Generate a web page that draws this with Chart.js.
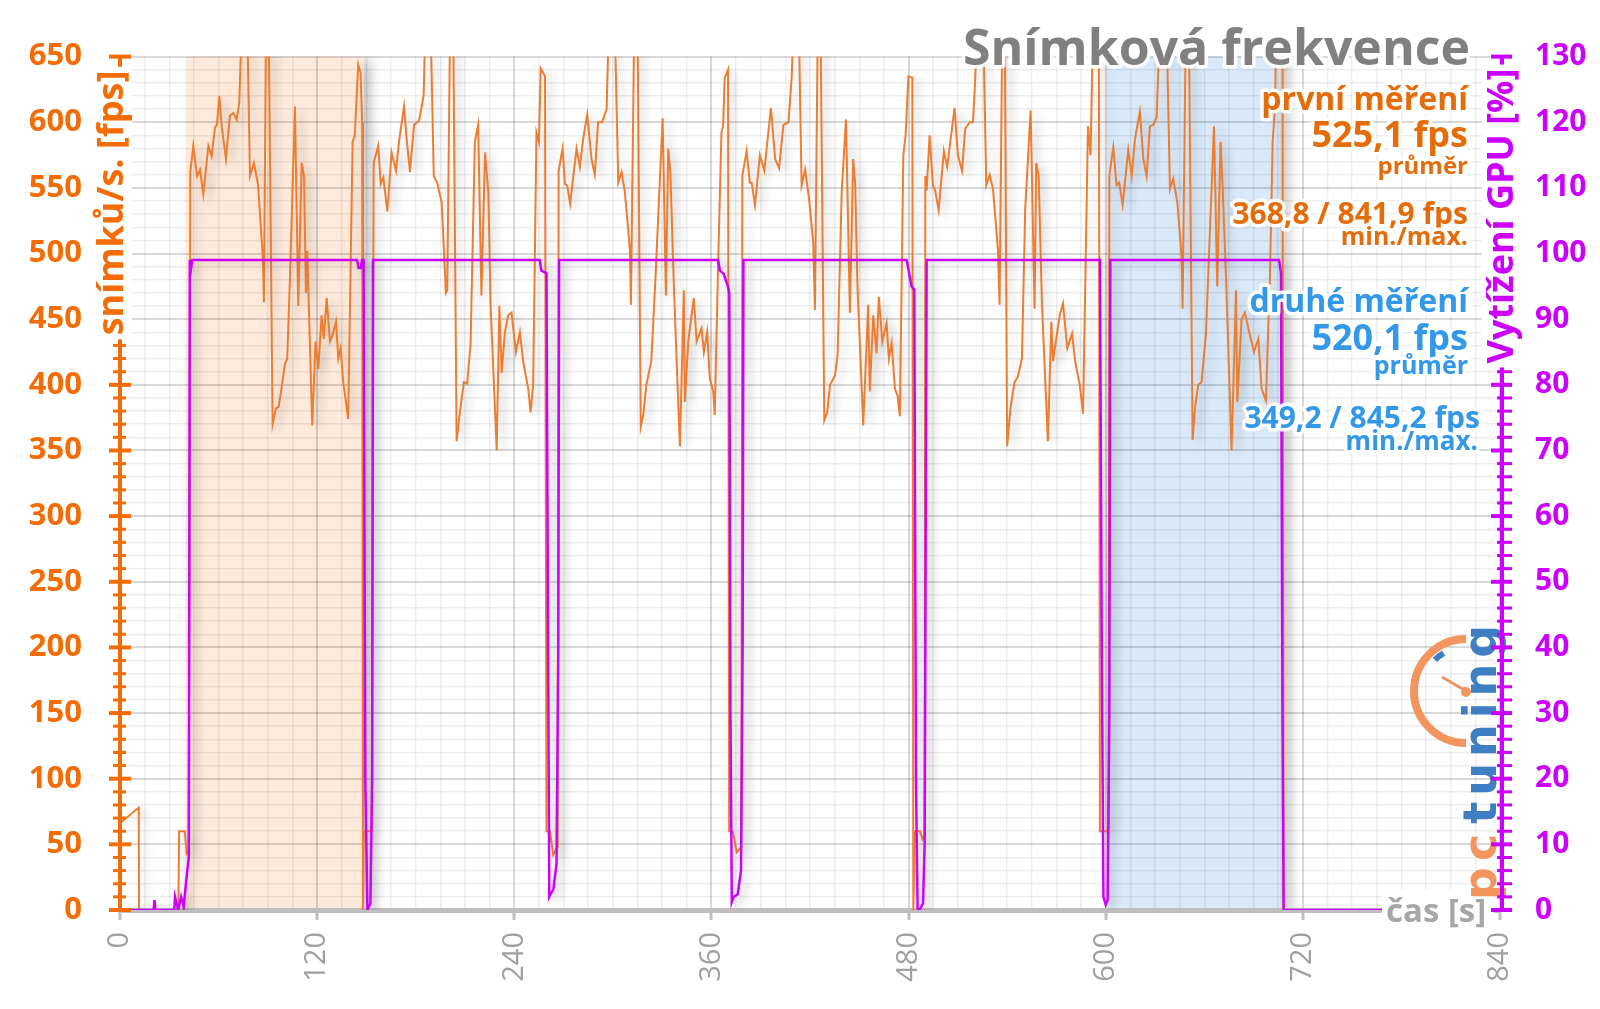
<!DOCTYPE html>
<html>
<head>
<meta charset="utf-8">
<title>Snímková frekvence</title>
<script src="https://cdn.jsdelivr.net/npm/chart.js@4.4.1/dist/chart.umd.min.js"></script>
<style>
  html, body { margin: 0; padding: 0; background: #fff; }
  #wrap { width: 1600px; height: 1009px; }
</style>
</head>
<body>
<div id="wrap"><canvas id="fpsChart" width="1600" height="1009"></canvas></div>
<script>
// time [s] / fps pairs, one list per test run
const fpsIdle = [[0,66],[11.4,78],[11.6,0],[35.5,0],[36,60],[39.4,60],[40.6,43],[41.8,45]];
const fpsRun1 = [[42.8,562],[44.6,582],[46.9,559],[48.7,564],[50.7,545],[53.8,582],[55.8,574],[57.8,596],[59,598],[60.5,620],[61.9,597],[64.5,572],[66.9,605],[69,607],[71,602],[72.6,615],[76.3,760],[79.1,559],[81.5,569],[84,553],[87,496],[87.6,463],[89.6,790],[92.9,370],[94.9,382],[96.5,383],[98.4,398],[100.4,416],[101.8,420],[103.5,483],[106.5,612],[108.5,460],[110.6,569],[112,559],[113.2,470],[114,502],[117,369],[119,433],[120.7,412],[122.7,453],[124,435],[125.8,466],[127.8,433],[129.4,438],[131.5,448],[132.9,420],[134.3,428],[135.9,402],[138.9,374],[141.6,585],[142.9,590],[145,644],[146.4,638],[147.4,600],[147.9,0],[148.4,60],[153.2,60]];
const fpsRun2 = [[154.4,569],[157.2,582],[158.7,553],[160.3,558],[162.7,532],[165.3,577],[168,563],[170,587],[172.9,612],[174.5,587],[176.5,562],[179,598],[182,601],[184.8,620],[187.6,760],[191,559],[193,554],[195.8,539],[198.4,470],[199.2,472],[202,800],[204.9,357],[206.9,379],[209.3,402],[211.3,401],[213.4,431],[216,585],[218,598],[220,468],[222.2,577],[224.2,547],[225.6,460],[229.3,350],[230.9,460],[232.3,409],[234.3,440],[236.3,453],[238.3,455],[241,425],[243.4,440],[245.5,417],[248.5,397],[249.9,379],[251.5,400],[253.5,592],[255,585],[256.1,641],[258.7,635],[259.6,60],[261.7,60],[263.7,42],[266.4,48]];
const fpsRun3 = [[267,563],[269.4,580],[270.8,553],[272.2,552],[274,538],[277.9,580],[279.9,566],[281.9,587],[284.4,606],[287,572],[289,560],[291,600],[293.5,600],[296.2,610],[299.5,770],[303.3,554],[305.3,562],[307.3,547],[310.4,503],[311,461],[314.2,800],[317,368],[318.5,377],[320.4,400],[323.4,418],[326,483],[330.3,603],[332.3,468],[333.7,580],[335,562],[337.2,473],[340.8,353],[343.2,472],[343.8,387],[345.9,433],[347.9,453],[349.3,466],[351,433],[354,443],[355.4,425],[357.4,440],[359,405],[361.1,395],[362,377],[364.1,493],[366.1,592],[367.1,597],[368.1,634],[370.1,640],[370.8,60],[373,60],[375.4,44],[378.2,48]];
const fpsRun4 = [[378.8,559],[381.4,578],[383.4,554],[384.5,554],[386.5,537],[389.5,575],[392.2,563],[394.2,587],[396.2,611],[398.8,572],[401.2,565],[403.8,598],[406.9,600],[408.9,635],[412,760],[414.9,552],[417,564],[419.4,542],[422,508],[423,457],[425.6,780],[428.7,373],[430.5,379],[432.2,400],[435.2,407],[436.8,423],[439.3,547],[441.9,602],[444.3,455],[446.3,572],[447.5,553],[448.9,475],[452.4,369],[455.4,461],[456.4,395],[458.5,453],[460.5,424],[461.9,467],[464,433],[466.6,447],[468,420],[469.7,432],[471.7,397],[473.3,392],[474.7,376],[476.8,575],[478.2,590],[479.9,635],[482.3,634],[482.9,0],[483.9,60],[486.9,60],[488.5,54],[489.8,58]];
const fpsRun5 = [[490.2,559],[491,548],[492.8,590],[494.8,552],[496.2,548],[498.3,533],[501.5,578],[503.5,566],[505.6,587],[508,611],[510,575],[512.5,563],[514.5,595],[517.2,600],[519.2,600],[520.5,630],[524,770],[527.3,552],[529.4,560],[531.4,549],[534.4,503],[535.4,461],[538,790],[540,353],[542,382],[544.5,402],[546.5,406],[549,420],[551,534],[554.3,609],[556.7,458],[557.7,569],[559.2,559],[561.2,461],[564.8,357],[566.9,448],[567.9,418],[572,453],[574,462],[576.6,428],[579.5,439],[581.5,417],[584.2,400],[586.2,378],[589.2,597],[590.8,575],[592.5,690],[595.8,700],[596.5,60],[600.6,60],[601.8,62]];
const fpsRun6 = [[602.2,559],[604.6,581],[606.6,552],[608.2,554],[610.3,537],[613.7,579],[615.8,559],[617.8,587],[620.8,608],[622.9,572],[624.9,559],[626.9,597],[629,598],[631,604],[635.5,770],[639.1,549],[641.1,557],[643.6,539],[646.2,498],[646.8,458],[649.8,790],[652.9,358],[654.3,382],[656.3,400],[658.3,402],[661,438],[665.9,597],[667.9,475],[669.9,585],[671.3,547],[673.2,483],[676.6,350],[679.3,472],[680.1,387],[682.7,450],[684.7,455],[687.4,440],[690.2,425],[692.9,435],[694.9,397],[697.5,388],[700,483],[701.6,585],[703,610],[704.5,720],[707.6,700],[708.3,0]];

// time [s] / GPU load [%] pairs
const gpuLoad = [[0,0],[20.5,0],[21,1.5],[21.6,0],[33,0],[33.5,2],[35.4,0],[37.2,2],[38.8,0.5],[40.3,4.5],[41.9,8],[42.5,99],[43.2,97.6],[44,99],
  [144.3,99],[145.2,97.8],[146.6,97.8],[147.3,99],[148.3,99],[149.3,20],[150.6,0],[152.4,1],[153.5,20],[154,99],
  [255.5,99],[256.5,97.4],[259.6,97],[260.5,45],[261.3,2],[263.8,3.2],[265.7,7],[266.8,40],[267.3,99],
  [364,99],[365.2,97.4],[367.5,96.9],[370,95],[370.9,94],[371.6,30],[372.4,1.2],[373.6,2],[376,2.4],[378,6],[379,40],[379.5,99],
  [478.8,99],[480,97.5],[481.8,95],[483.5,94.5],[484.5,20],[485.5,0],[486.6,0],[488.8,1],[489.8,10],[491,99],
  [596.5,99],[597.6,40],[598.6,2],[600,0.8],[601.2,1.5],[602.2,30],[602.8,99],
  [705.5,99],[706.7,97],[707.6,30],[708.3,0],[768.5,0]];

// highlighted runs [start s, end s]
const firstBand = [40, 148.5];
const secondBand = [601, 706.5];

const timeLabels = [0, 120, 240, 360, 480, 600, 720, 840];
const fpsLabels = [0, 50, 100, 150, 200, 250, 300, 350, 400, 450, 500, 550, 600, 650];
const gpuLabels = [0, 10, 20, 30, 40, 50, 60, 70, 80, 90, 100, 110, 120, 130];

const firstText = ['první měření', '525,1 fps', 'průměr', '368,8 / 841,9 fps', 'min./max.'];
const secondText = ['druhé měření', '520,1 fps', 'průměr', '349,2 / 845,2 fps', 'min./max.'];

const FONT = '"Open Sans", "Noto Sans", sans-serif';
const ORANGE = '#F46C05';
const ORANGE_TXT = '#E46C0A';
const LINE_ORANGE = '#ED7D31';
const MAGENTA = '#CC00FF';
const BLUE_TXT = '#3398E8';
const GREY = '#808080';

const toPoints = list => list.map(p => ({ x: p[0], y: p[1] }));
const fpsPoints = toPoints([].concat(fpsIdle, fpsRun1, fpsRun2, fpsRun3, fpsRun4, fpsRun5, fpsRun6));
const gpuPoints = toPoints(gpuLoad);

function haloText(ctx, text, x, y, size, color, align) {
    ctx.font = 'bold ' + size + 'px ' + FONT;
    ctx.textAlign = align || 'right';
    ctx.textBaseline = 'alphabetic';
    ctx.lineJoin = 'round';
    ctx.lineWidth = 7;
    ctx.strokeStyle = 'rgba(255,255,255,0.92)';
    ctx.strokeText(text, x, y);
    ctx.fillStyle = color;
    ctx.fillText(text, x, y);
}

function boxedVertical(ctx, text, cx, cy, size, color) {
    ctx.save();
    ctx.translate(cx, cy);
    ctx.rotate(-Math.PI / 2);
    ctx.font = 'bold ' + size + 'px ' + FONT;
    const w = ctx.measureText(text).width;
    ctx.fillStyle = '#fff';
    ctx.fillRect(-w / 2 - 4, -20, w + 8, 40);
    ctx.fillStyle = color;
    ctx.textAlign = 'center';
    ctx.textBaseline = 'middle';
    ctx.fillText(text, 0, 1);
    ctx.restore();
}

const bandPlugin = {
    id: 'bands',
    beforeDraw(chart) {
        const { ctx, chartArea: a, scales: { x } } = chart;
        ctx.save();
        ctx.fillStyle = '#fff';
        ctx.fillRect(0, 0, chart.width, chart.height);
        ctx.beginPath();
        ctx.rect(a.left, a.top, a.right - a.left, a.bottom - a.top);
        ctx.clip();
        ctx.shadowColor = 'rgba(0,0,0,0.18)';
        ctx.shadowBlur = 12;
        ctx.shadowOffsetX = 7;
        [[firstBand, '#FDEADB'], [secondBand, '#DAE9F9']].forEach(([b, col]) => {
            const x0 = x.getPixelForValue(b[0]);
            const x1 = x.getPixelForValue(b[1]);
            ctx.fillStyle = col;
            ctx.fillRect(x0, a.top, x1 - x0, a.bottom - a.top);
        });
        ctx.restore();
    }
};

const shadowPlugin = {
    id: 'lineShadow',
    beforeDatasetDraw(chart) {
        const ctx = chart.ctx;
        ctx.save();
        ctx.shadowColor = 'rgba(0,0,0,0.2)';
        ctx.shadowBlur = 10;
        ctx.shadowOffsetX = 6;
        ctx.shadowOffsetY = 3;
    },
    afterDatasetDraw(chart) {
        chart.ctx.restore();
    }
};

function drawLogo(ctx) {
    ctx.save();
    const lo = '#F2955E', lb = '#3F7EC2';
    ctx.strokeStyle = lo;
    ctx.lineWidth = 8;
    ctx.beginPath();
    ctx.arc(1466, 691, 52, Math.PI * 0.5, Math.PI * 1.5);
    ctx.stroke();
    ctx.strokeStyle = lb;
    ctx.lineWidth = 6;
    ctx.beginPath();
    ctx.arc(1466, 691, 44, Math.PI * 1.25, Math.PI * 1.33);
    ctx.stroke();
    ctx.strokeStyle = lo;
    ctx.lineWidth = 3;
    ctx.beginPath();
    ctx.moveTo(1466, 691);
    ctx.lineTo(1442, 677);
    ctx.stroke();
    ctx.fillStyle = lo;
    ctx.beginPath();
    ctx.arc(1466, 692, 5, 0, Math.PI * 2);
    ctx.fill();
    ctx.translate(1496, 900);
    ctx.rotate(-Math.PI / 2);
    ctx.font = 'bold 46px "DejaVu Sans"';
    ctx.letterSpacing = '6px';
    ctx.textAlign = 'left';
    ctx.textBaseline = 'alphabetic';
    ctx.fillStyle = lo;
    ctx.fillText('pc', 0, 0);
    const w = ctx.measureText('pc').width;
    ctx.fillStyle = lb;
    ctx.fillText('tuning', w + 4, 0);
    ctx.restore();
}

const overlayPlugin = {
    id: 'overlay',
    afterDraw(chart) {
        const { ctx, chartArea: a, scales: { y, y1 } } = chart;

        ctx.save();
        ctx.fillStyle = '#fff';
        ctx.fillRect(1382, 890, 112, 44);
        ctx.font = 'bold 33px ' + FONT;
        ctx.fillStyle = '#A6A6A6';
        ctx.textAlign = 'left';
        ctx.textBaseline = 'alphabetic';
        ctx.fillText('čas [s]', 1386, 922);
        ctx.restore();

        drawLogo(ctx);

        // axis lines and crossing tick marks
        ctx.save();
        ctx.strokeStyle = ORANGE;
        ctx.lineWidth = 4;
        ctx.beginPath();
        ctx.moveTo(a.left, a.top - 1);
        ctx.lineTo(a.left, a.bottom);
        ctx.stroke();
        for (let v = 0; v <= 650; v += 10) {
            const py = y.getPixelForValue(v);
            const major = fpsLabels.includes(v);
            ctx.lineWidth = major ? 4 : 3;
            ctx.beginPath();
            ctx.moveTo(major ? a.left - 11 : a.left - 7, py);
            ctx.lineTo(major ? a.left + 11 : a.left + 6, py);
            ctx.stroke();
        }
        ctx.strokeStyle = MAGENTA;
        ctx.lineWidth = 4;
        ctx.beginPath();
        ctx.moveTo(a.right + 2, a.top - 1);
        ctx.lineTo(a.right + 2, a.bottom);
        ctx.stroke();
        for (let v = 0; v <= 130; v += 2) {
            const py = y1.getPixelForValue(v);
            const major = gpuLabels.includes(v);
            ctx.lineWidth = major ? 4 : 3;
            ctx.beginPath();
            ctx.moveTo(major ? a.right - 9 : a.right - 3, py);
            ctx.lineTo(a.right + 12, py);
            ctx.stroke();
        }
        ctx.restore();

        // axis titles
        boxedVertical(ctx, 'snímků/s. [fps]', 112, 203, 36, ORANGE);
        boxedVertical(ctx, 'Vytížení GPU [%]', 1502, 216, 36, MAGENTA);

        // title and run summaries
        ctx.save();
        haloText(ctx, 'Snímková frekvence', 1470, 65, 50, GREY);
        haloText(ctx, firstText[0], 1468, 110, 32, ORANGE_TXT);
        haloText(ctx, firstText[1], 1468, 147, 36, ORANGE_TXT);
        haloText(ctx, firstText[2], 1468, 174, 24, ORANGE_TXT);
        haloText(ctx, firstText[3], 1468, 224, 30, ORANGE_TXT);
        haloText(ctx, firstText[4], 1468, 245, 25, ORANGE_TXT);
        haloText(ctx, secondText[0], 1468, 312, 32, BLUE_TXT);
        haloText(ctx, secondText[1], 1468, 350, 36, BLUE_TXT);
        haloText(ctx, secondText[2], 1468, 374, 25, BLUE_TXT);
        haloText(ctx, secondText[3], 1480, 428, 30, BLUE_TXT);
        haloText(ctx, secondText[4], 1478, 450, 26, BLUE_TXT);
        ctx.restore();
    }
};

const majorGrid = 'rgba(0,0,0,0.15)';
const minorGrid = 'rgba(0,0,0,0.065)';

new Chart(document.getElementById('fpsChart'), {
    type: 'line',
    data: {
        datasets: [{
            label: 'Vytížení GPU',
            data: gpuPoints,
            yAxisID: 'y1',
            borderColor: MAGENTA,
            borderWidth: 2.5,
            pointRadius: 0,
            tension: 0
        }, {
            label: 'Snímková frekvence',
            data: fpsPoints,
            yAxisID: 'y',
            borderColor: LINE_ORANGE,
            borderWidth: 2,
            pointRadius: 0,
            tension: 0
        }]
    },
    options: {
        responsive: false,
        animation: false,
        layout: { padding: { top: 54, left: 0, right: 0, bottom: 0 } },
        plugins: { legend: { display: false }, tooltip: { enabled: false } },
        scales: {
            x: {
                type: 'linear',
                min: 0,
                max: 840,
                ticks: {
                    stepSize: 15,
                    autoSkip: false,
                    minRotation: 90,
                    maxRotation: 90,
                    padding: 12,
                    color: '#A0A0A0',
                    font: { family: FONT, size: 29, weight: 'normal' },
                    callback: v => timeLabels.includes(v) ? String(v) : ''
                },
                grid: {
                    color: c => c.tick && timeLabels.includes(c.tick.value) ? majorGrid : minorGrid,
                    lineWidth: c => c.tick && timeLabels.includes(c.tick.value) ? 2 : 1.5,
                    tickColor: c => c.tick && timeLabels.includes(c.tick.value) ? '#BFBFBF' : 'rgba(0,0,0,0)',
                    tickLength: 10,
                    tickWidth: 3
                },
                border: { color: '#BFBFBF', width: 5 },
                afterFit: s => { s.height = 99; }
            },
            y: {
                position: 'left',
                min: 0,
                max: 650,
                ticks: {
                    stepSize: 10,
                    autoSkip: false,
                    padding: 38,
                    color: ORANGE,
                    font: { family: FONT, size: 31, weight: 'bold' },
                    callback: v => fpsLabels.includes(v) ? String(v) : ''
                },
                grid: {
                    drawTicks: false,
                    color: c => c.tick && fpsLabels.includes(c.tick.value) ? majorGrid : minorGrid,
                    lineWidth: c => c.tick && fpsLabels.includes(c.tick.value) ? 2 : 1.5
                },
                border: { display: false },
                afterFit: s => { s.width = 120; }
            },
            y1: {
                position: 'right',
                min: 0,
                max: 130,
                ticks: {
                    stepSize: 2,
                    autoSkip: false,
                    padding: 35,
                    color: MAGENTA,
                    font: { family: FONT, size: 30, weight: 'bold' },
                    callback: v => gpuLabels.includes(v) ? String(v) : ''
                },
                grid: { drawOnChartArea: false, drawTicks: false },
                border: { display: false },
                afterFit: s => { s.width = 100; }
            }
        }
    },
    plugins: [bandPlugin, shadowPlugin, overlayPlugin]
});
</script>
</body>
</html>
